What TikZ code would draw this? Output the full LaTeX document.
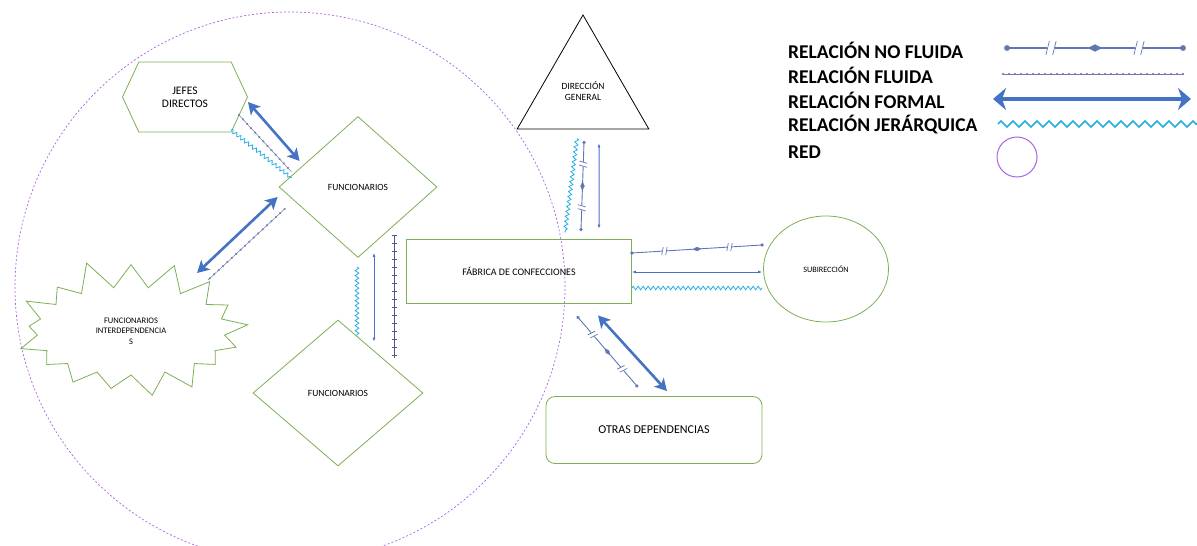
\documentclass[tikz,border=0pt]{standalone}
\usepackage{fontspec}
\setmainfont{Carlito}
\usetikzlibrary{shapes,arrows.meta,decorations.pathmorphing,decorations.markings}

\definecolor{verde}{RGB}{125,175,85}
\definecolor{azul}{RGB}{68,114,196}
\definecolor{azulgris}{RGB}{95,120,180}
\definecolor{cian}{RGB}{35,175,228}
\definecolor{gris}{RGB}{115,120,165}
\definecolor{pizarra}{RGB}{80,90,140}
\definecolor{morado}{RGB}{170,100,230}

\tikzset{nofluida/.style={draw=azulgris,line width=0.9pt,postaction={decorate},decoration={markings,
  mark=at position 0 with {\draw[azulgris,fill=azulgris,line width=0.2pt,scale=#1] (0,0) circle (1.6pt);},
  mark=at position 0.25 with {\draw[white,fill=white,scale=#1] (-2pt,-2.5pt) rectangle (2pt,2.5pt); \draw[azulgris,line width=0.7pt,scale=#1] (-3pt,-4pt) -- (-1pt,4pt) (1pt,-4pt) -- (3pt,4pt);},
  mark=at position 0.5 with {\draw[azulgris,fill=azulgris,line width=0.2pt,scale=#1] (-4pt,0) -- (0,2pt) -- (4pt,0) -- (0,-2pt) -- cycle;},
  mark=at position 0.75 with {\draw[white,fill=white,scale=#1] (-2pt,-2.5pt) rectangle (2pt,2.5pt); \draw[azulgris,line width=0.7pt,scale=#1] (-3pt,-4pt) -- (-1pt,4pt) (1pt,-4pt) -- (3pt,4pt);},
  mark=at position 1 with {\draw[azulgris,fill=azulgris,line width=0.2pt,scale=#1] (0,0) circle (1.6pt);}}},
  nofluida/.default=1}

\begin{document}
\begin{tikzpicture}[x=1pt,y=-1pt,font=\fontsize{9.5}{11}\selectfont]
\tikzstyle{caja} = [draw=verde,line width=0.8pt,align=center]
\tikzstyle{formal} = [draw=azul,line width=2.6pt,{Stealth[length=12pt,width=13pt,inset=3pt]}-{Stealth[length=12pt,width=13pt,inset=3pt]}]
\tikzstyle{flecha} = [draw=azul,line width=1pt,{Latex[length=4pt,width=3pt]}-{Latex[length=4pt,width=3pt]}]
\tikzstyle{jerarquica} = [draw=cian,line width=0.8pt,decorate,decoration={zigzag,segment length=5pt,amplitude=1.8pt}]
\tikzstyle{fluida} = [draw=gris,line width=0.5pt,postaction={decorate},decoration={markings,mark=between positions 0 and 1 step 6pt with {\draw[gris,fill=gris,line width=0.2pt] (0,0) circle (1pt);}}]
\tikzstyle{fluidacruz} = [draw=pizarra,line width=1pt,postaction={decorate},decoration={markings,mark=between positions 0 and 1 step 8pt with {\draw[pizarra,line width=0.8pt] (0,-2.5pt) -- (0,2.5pt);}}]
\tikzstyle{leyenda} = [anchor=west,inner sep=0pt,font=\fontsize{19.5}{22}\selectfont\bfseries]

\useasboundingbox (0,0) rectangle (1197,546);

% red
\node[draw=morado,circle,minimum size=550pt,line width=0.7pt,dash pattern=on 2pt off 2pt](red) at (290,287) {};

% nodos
\node[caja,signal,signal to=east and west,signal pointer angle=130,minimum width=125pt,minimum height=70pt,font=\fontsize{11.5}{13}\selectfont](jefes) at (185,97) {JEFES\\DIRECTOS};
\node[caja,diamond,inner sep=0pt,minimum width=158pt,minimum height=141pt](func1) at (358,187) {FUNCIONARIOS};
\node[caja,diamond,inner sep=0pt,minimum width=170pt,minimum height=146pt](func2) at (338,393) {FUNCIONARIOS};
\node[caja,starburst,starburst points=17,starburst point height=30pt,random starburst=11,minimum width=248pt,minimum height=148pt,font=\fontsize{8.5}{10.5}\selectfont](inter) at (131,331) {FUNCIONARIOS\\INTERDEPENDENCIA\\S};
\node[draw=black,line width=0.8pt,regular polygon,regular polygon sides=3,minimum size=152pt,inner sep=0pt,align=center,font=\fontsize{9.5}{11.5}\selectfont](direccion) at (583,91) {DIRECCIÓN\\GENERAL};
\node[caja,minimum width=225pt,minimum height=64pt,font=\fontsize{10}{12}\selectfont](fabrica) at (519,271) {FÁBRICA DE CONFECCIONES};
\node[caja,ellipse,minimum width=125pt,minimum height=106pt,font=\fontsize{8.2}{10}\selectfont](subi) at (826,269) {SUBIRECCIÓN};
\node[caja,rounded corners=9pt,minimum width=216pt,minimum height=67pt,font=\fontsize{12}{14}\selectfont](otras) at (654,430) {OTRAS DEPENDENCIAS};

% jefes - funcionarios
\draw[formal] ([shift={(0,5)}]jefes.east) -- ([shift={(21,-26)}]func1.west);
\draw[fluida] ([shift={(-9,18)}]jefes.east) -- ([shift={(13,-15)}]func1.west);
\draw[jerarquica] ([shift={(-17,33)}]jefes.east) -- ([shift={(13,-9)}]func1.west);

% funcionarios - interdependencias
\draw[formal] ([shift={(-1,10)}]func1.west) -- ([shift={(66,-58)}]inter.center);
\draw[fluida] ([shift={(6,22)}]func1.west) -- ([shift={(77,-51)}]inter.center);

% funcionarios - funcionarios
\draw[jerarquica] ([shift={(-1,9)}]func1.south) -- ([shift={(19,17)}]func2.north);
\draw[flecha] ([shift={(16,-5)}]func1.south) -- ([shift={(36,22)}]func2.north);
\draw[fluidacruz] ([shift={(36,-23)}]func1.south) -- ([shift={(56,38)}]func2.north);

% direccion - fabrica
\draw[jerarquica] ([shift={(-6,9)}]direccion.south) -- ([shift={(46,-6)}]fabrica.north);
\draw[nofluida] ([shift={(1,13)}]direccion.south) -- ([shift={(62,-9)}]fabrica.north);
\draw[flecha] ([shift={(16,14)}]direccion.south) -- ([shift={(80,-10)}]fabrica.north);

% fabrica - subireccion
\draw[nofluida] ([shift={(0,-18)}]fabrica.east) -- ([shift={(-1,-24)}]subi.west);
\draw[flecha] ([shift={(0,1)}]fabrica.east) -- ([shift={(-1,3)}]subi.west);
\draw[jerarquica] ([shift={(0,17)}]fabrica.east) -- ([shift={(-1,19)}]subi.west);

% fabrica - otras
\draw[nofluida] ([shift={(59,14)}]fabrica.south) -- ([shift={(-17,-10)}]otras.north);
\draw[formal] ([shift={(79,12)}]fabrica.south) -- ([shift={(13,-5)}]otras.north);

% leyenda
\node[leyenda](ley1) at (788,50) {RELACIÓN NO FLUIDA};
\node[leyenda](ley2) at (788,75) {RELACIÓN FLUIDA};
\node[leyenda](ley3) at (788,100) {RELACIÓN FORMAL};
\node[leyenda](ley4) at (788,125) {RELACIÓN JERÁRQUICA};
\node[leyenda](ley5) at (788,152) {RED};

\coordinate (l1a) at (1007,48); \coordinate (l1b) at (1183,48);
\coordinate (l2a) at (1003,74); \coordinate (l2b) at (1183,74);
\coordinate (l3a) at (993,99); \coordinate (l3b) at (1191,99);
\coordinate (l4a) at (998,124); \coordinate (l4b) at (1197,124);

\draw[nofluida=1.7,line width=1.3pt] (l1a) -- (l1b);
\draw[fluida,decoration={markings,mark=between positions 0 and 1 step 12.9pt with {\draw[gris,fill=gris,line width=0.2pt] (0,0) circle (1.2pt);}}] (l2a) -- (l2b);
\draw[formal,line width=3.5pt,{Stealth[length=13pt,width=22pt,inset=4pt]}-{Stealth[length=13pt,width=22pt,inset=4pt]}] (l3a) -- (l3b);
\draw[jerarquica,line width=1.6pt,decoration={zigzag,segment length=12pt,amplitude=3pt}] (l4a) -- (l4b);
\node[draw=morado,circle,line width=1pt,minimum size=40pt](ley5c) at (1017,157) {};

\end{tikzpicture}
\end{document}
